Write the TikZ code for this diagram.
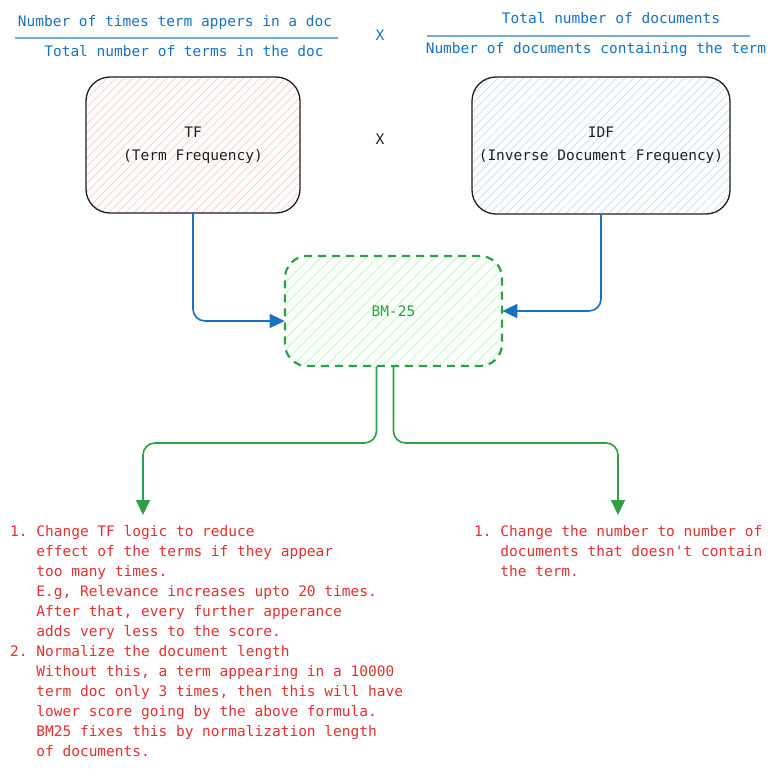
\documentclass[tikz,border=0pt]{standalone}
\usepackage{fontspec}
\setmonofont{DejaVu Sans Mono}
\usepackage{tikz}
\usetikzlibrary{arrows.meta,positioning,patterns.meta,calc}
\usepackage{xcolor}
\definecolor{exblue}{HTML}{1971C2}
\definecolor{exred}{HTML}{E03131}
\definecolor{exgreen}{HTML}{2F9E44}
\definecolor{exink}{HTML}{1E1E1E}
\newcommand{\pad}{\phantom{0.~}}

\begin{document}
\begin{tikzpicture}[
  x=1pt, y=-1pt, font=\ttfamily\fontsize{14.5}{20}\selectfont,
  frac/.style={text=exblue, inner sep=0pt},
  fracline/.style={draw=exblue!60, line width=1.2pt},
  box/.style={rectangle, draw=exink, line width=1.3pt, rounded corners=24pt,
              align=center, text=exink, font=\ttfamily\fontsize{14.5}{23}\selectfont},
  tfbox/.style={box, pattern={Lines[angle=45,distance=6pt,line width=0.7pt]}, pattern color=red!22},
  idfbox/.style={box, pattern={Lines[angle=45,distance=6pt,line width=0.7pt]}, pattern color=exblue!25},
  bmbox/.style={rectangle, draw=exgreen, line width=2.2pt, dash pattern=on 8pt off 6pt,
                rounded corners=22pt, text=exgreen,
                pattern={Lines[angle=45,distance=8pt,line width=0.7pt]}, pattern color=green!30},
  note/.style={anchor=north west, inner sep=0pt, align=left, text=exred},
  barr/.style={-{Triangle[length=15pt,width=14pt]}, draw=exblue, line width=1.6pt, rounded corners=12pt},
  garr/.style={-{Triangle[length=15pt,width=14pt]}, draw=exgreen, line width=1.6pt, rounded corners=12pt},
]
  \useasboundingbox (0,0) rectangle (777,771);

  %% Top row: the two fractions
  \node[frac] (tfnum) at (175,22) {Number of times term appers in a doc};
  \node[frac] (tfden) at (184,51) {Total number of terms in the doc};
  \draw[fracline] (15,38) -- (338,38);
  \node[frac] (times1) at (380,35) {X};
  \node[frac] (idfnum) at (611,18) {Total number of documents};
  \node[frac] (idfden) at (596,50) {Number of documents containing the term};
  \draw[fracline] (427,36) -- (750,36);

  %% TF and IDF boxes
  \node[tfbox, minimum width=214pt, minimum height=136pt] (tf) at (193,145)
       {TF\\(Term Frequency)};
  \node[text=exink] (times2) at (380,139) {X};
  \node[idfbox, minimum width=258pt, minimum height=137pt] (idf) at (601,145.5)
       {IDF\\(Inverse Document Frequency)};

  %% BM-25 in the middle
  \node[bmbox, minimum width=217pt, minimum height=110pt] (bm) at (393.5,311) {BM-25};

  %% Notes at the bottom
  \node[note] (left) at (10,525)
       {1.~Change TF logic to reduce\\
        \pad effect of the terms if they appear\\
        \pad too many times.\\
        \pad E.g, Relevance increases upto 20 times.\\
        \pad After that, every further apperance\\
        \pad adds very less to the score.\\
        2.~Normalize the document length\\
        \pad Without this, a term appearing in a 10000\\
        \pad term doc only 3 times, then this will have\\
        \pad lower score going by the above formula.\\
        \pad BM25 fixes this by normalization length\\
        \pad of documents.};
  \node[note] (right) at (474,525)
       {1.~Change the number to number of\\
        \pad documents that doesn't contain\\
        \pad the term.};

  \coordinate (lt) at (143,515);
  \coordinate (rt) at (618,515);

  \draw[barr] (tf.south)  |- ([yshift=-10pt]bm.west);
  \draw[barr] (idf.south) |- (bm.east);
  \draw[garr] ([xshift=-17pt]bm.south) |- ($(lt)+(0,-72)$) -- (lt);
  \draw[garr] (bm.south) |- ($(rt)+(0,-72)$) -- (rt);
\end{tikzpicture}
\end{document}
